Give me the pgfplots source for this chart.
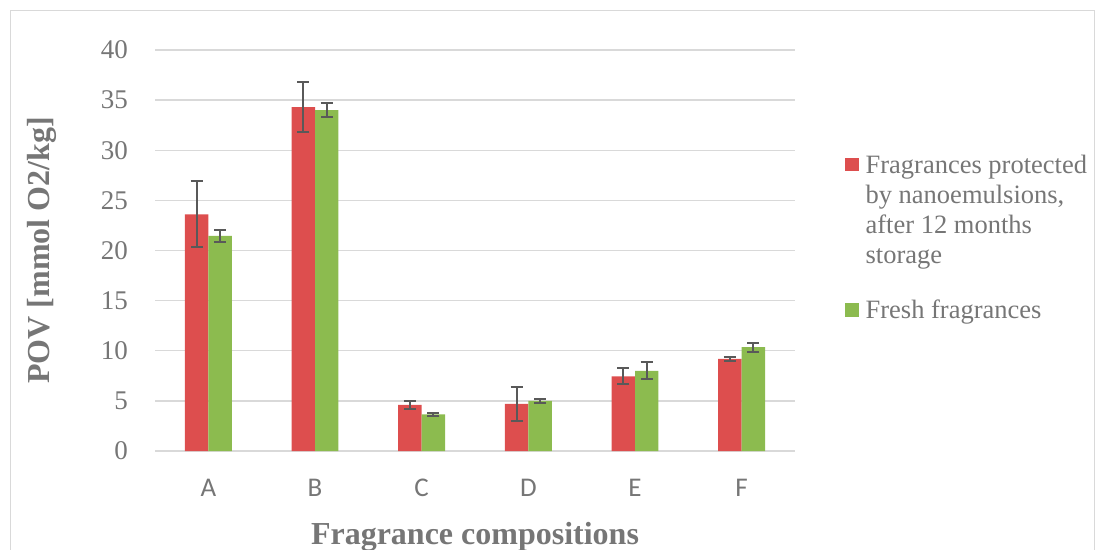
\documentclass[border=0pt]{standalone}
\usepackage{pgfplots}
\pgfplotsset{compat=1.18}
\usepackage{fontspec}
\setmainfont{Liberation Serif}
\newfontfamily\calibri{Carlito}
\definecolor{barred}{HTML}{DD4E4E}
\definecolor{bargreen}{HTML}{8CBB4F}
\definecolor{txtgray}{HTML}{767676}
\definecolor{gridgray}{HTML}{D9D9D9}
\definecolor{errgray}{HTML}{595959}

% POV after storage (with nanoemulsion) and of the fresh fragrances
\pgfplotstableread{
x  val   err
0  23.6  3.3
1  34.3  2.5
2  4.6   0.4
3  4.7   1.7
4  7.45  0.8
5  9.2   0.2
}\stored
\pgfplotstableread{
x  val   err
0  21.45 0.6
1  34.0  0.7
2  3.65  0.17
3  5.0   0.23
4  8.0   0.85
5  10.35 0.43
}\fresh

\pgfplotsset{
  errstyle/.style={
    error bars/.cd, y dir=both, y explicit,
    error bar style={line width=2pt, color=errgray},
    error mark options={rotate=90, mark size=6pt, line width=2pt, color=errgray}},
}

\begin{document}
\begin{tikzpicture}[x=1pt,y=1pt]
\useasboundingbox (0,0) rectangle (1097,549);
\draw[gridgray, line width=1.2pt] (10.5,-10) rectangle (1094.5,538.5);
\begin{axis}[
  at={(155pt,98pt)}, anchor=south west,
  scale only axis, width=640pt, height=401pt,
  xmin=-0.5, xmax=5.5, ymin=0, ymax=40,
  xtick={0,...,5}, xticklabels={A,B,C,D,E,F},
  ytick={0,5,...,40},
  axis line style={draw=none},
  major tick length=0pt,
  ymajorgrids, grid style={gridgray, line width=1.3pt},
  /pgf/number format/assume math mode=true,
  yticklabel style={font=\rmfamily\fontsize{27}{27}\selectfont, text=txtgray, inner sep=0pt, xshift=-27pt},
  xticklabel style={font=\calibri\fontsize{27}{27}\selectfont, text=txtgray, inner sep=0pt, anchor=north, yshift=-28pt},
  xlabel={Fragrance compositions}, ylabel={POV [mmol O2/kg]},
  label style={font=\rmfamily\bfseries\fontsize{32}{32}\selectfont, text=txtgray},
  xlabel style={at={(axis description cs:0.5,-0.232)}, anchor=base},
  ylabel style={at={(axis description cs:-0.1766,0.5)}, anchor=center},
  ybar, bar width=0.22,
  legend style={at={(axis description cs:1.078,0.739)}, anchor=north west,
    draw=none, fill=none, inner sep=0pt,
    font=\rmfamily\fontsize{26.5}{30}\selectfont,
    text=txtgray, cells={anchor=west, align=left}, row sep=35pt,
    nodes={inner sep=0pt},
    /tikz/every odd column/.append style={column sep=7pt}},
]
\addplot[fill=barred, draw=none, bar shift=-0.11,
  legend image code/.code={\fill[barred] (0pt,38.75pt) rectangle (13.5pt,52.25pt);},
  errstyle]
  table[x=x, y=val, y error=err] {\stored};
\addlegendentry{Fragrances protected\\by nanoemulsions,\\after 12 months\\storage}
\addplot[fill=bargreen, draw=none, bar shift=0.11,
  legend image code/.code={\fill[bargreen] (0pt,-6.75pt) rectangle (13.5pt,6.75pt);},
  errstyle]
  table[x=x, y=val, y error=err] {\fresh};
\addlegendentry{Fresh fragrances}
\end{axis}
\end{tikzpicture}
\end{document}
